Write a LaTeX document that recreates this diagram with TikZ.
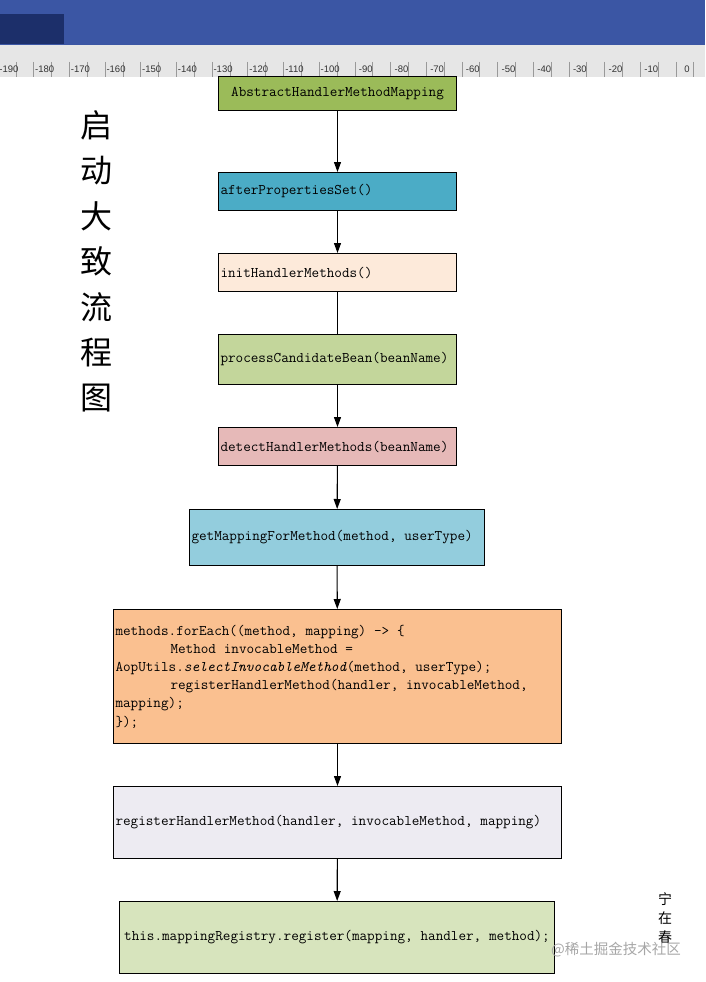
\documentclass[tikz,border=0pt]{standalone}
\usepackage{fontspec}
\setsansfont{Liberation Sans}
\newfontfamily\cjk{Noto Sans CJK SC}
\usetikzlibrary{arrows.meta,positioning}

\definecolor{barblue}{HTML}{3B56A4}
\definecolor{bardark}{HTML}{1C2F6A}
\definecolor{rulergray}{HTML}{E6E6E6}
\definecolor{boxgreen}{HTML}{9BBB59}
\definecolor{boxteal}{HTML}{4BACC6}
\definecolor{boxpeach}{HTML}{FDEADA}
\definecolor{boxolive}{HTML}{C3D69B}
\definecolor{boxpink}{HTML}{E6B9B8}
\definecolor{boxsky}{HTML}{93CDDD}
\definecolor{boxorange}{HTML}{FAC090}
\definecolor{boxlilac}{HTML}{EDEBF2}
\definecolor{boxsage}{HTML}{D7E4BD}

\newcommand{\codespacing}{\spaceskip=0.525em\relax\xspaceskip=0.525em\relax}

\begin{document}
\begin{tikzpicture}[x=1pt,y=-1pt,
    box/.style={draw=black, line width=1pt, rectangle, anchor=north west,
        inner xsep=2pt, inner ysep=0pt, align=left,
        font=\ttfamily\fontsize{14.75}{18.2}\selectfont,
        execute at begin node=\codespacing},
    flow/.style={-{Triangle[length=10pt,width=7pt]}, line width=1.1pt},
    rulertick/.style={gray!80, line width=0.6pt},
    titlechar/.style={font=\cjk\fontsize{32}{32}\selectfont}]
    \useasboundingbox (0,0) rectangle (705,982);

    % Window bar and ruler
    \fill[barblue] (0,0) rectangle (705,45);
    \fill[bardark] (0,14) rectangle (64,44);
    \fill[rulergray] (0,45) rectangle (705,77);
    \foreach \j in {0,...,39} {
        \draw[rulertick] ({-2+17.84*\j},62) -- ({-2+17.84*\j},77);
    }
    \foreach \v [count=\k from 0] in {-190,-180,...,0} {
        \node[font=\sffamily\fontsize{9.5}{9.5}\selectfont, text=black!80, inner sep=0pt]
            (r\k) at ({9+35.68*\k},69) {\v};
    }

    % Flow boxes
    \node[box, fill=boxgreen, text width=234pt, minimum height=34pt, align=center]
        (mapping) at (218,76) {AbstractHandlerMethodMapping};
    \node[box, fill=boxteal, text width=234pt, minimum height=38pt]
        (afterset) at (218,172) {afterPropertiesSet()};
    \node[box, fill=boxpeach, text width=234pt, minimum height=38pt]
        (inithm) at (218,253) {initHandlerMethods()};
    \node[box, fill=boxolive, text width=234pt, minimum height=50pt]
        (candidate) at (218,334) {processCandidateBean(beanName)};
    \node[box, fill=boxpink, text width=234pt, minimum height=38pt]
        (detect) at (218,427) {detectHandlerMethods(beanName)};
    \node[box, fill=boxsky, text width=291pt, minimum height=56pt]
        (getmapping) at (189,509) {getMappingForMethod(method, userType)};
    \node[box, fill=boxorange, text width=444pt, minimum height=134pt]
        (foreach) at (113,609) {methods.forEach((method, mapping) -> \{\\
        \hspace*{55pt}Method invocableMethod =\\
        AopUtils.\textit{selectInvocableMethod}(method, userType);\\
        \hspace*{55pt}registerHandlerMethod(handler, invocableMethod,\\
        mapping);\\
        \});};
    \node[box, fill=boxlilac, text width=444pt, minimum height=72pt]
        (register) at (113,786) {registerHandlerMethod(handler, invocableMethod, mapping)};
    \node[box, fill=boxsage, text width=431pt, minimum height=72pt, align=center]
        (registry) at (119,901) {this.mappingRegistry.register(mapping, handler, method);};

    % Connectors
    \draw[flow] (mapping) -- (afterset);
    \draw[flow] (afterset) -- (inithm);
    \draw[line width=1.1pt] (inithm) -- (candidate);
    \draw[flow] (candidate) -- (detect);
    \draw[flow] (detect) -- (getmapping);
    \draw[flow] (getmapping) -- (foreach);
    \draw[flow] (foreach) -- (register);
    \draw[flow] (register) -- (registry);

    % Vertical title
    \foreach \c [count=\k from 0] in {启,动,大,致,流,程,图} {
        \node[titlechar] (t\k) at (96,{125+45.5*\k}) {\c};
    }

    % Signature and watermark
    \node[font=\cjk\fontsize{14}{19}\selectfont, align=center, inner sep=0pt]
        (sign) at (665,918) {宁\\在\\春};
    \node[font=\cjk\fontsize{14.5}{14.5}\selectfont, text=black!35, inner sep=0pt]
        (mark) at (616,950) {@稀土掘金技术社区};
\end{tikzpicture}
\end{document}
